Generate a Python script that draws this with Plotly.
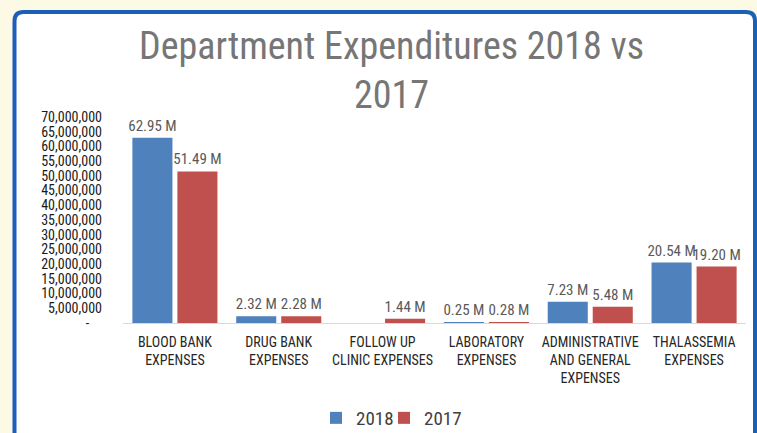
"""Department expenditures 2018 vs 2017 grouped bar chart."""
import plotly.graph_objects as go

categories = [
    "BLOOD BANK<br>EXPENSES",
    "DRUG BANK<br>EXPENSES",
    "FOLLOW UP<br>CLINIC EXPENSES",
    "LABORATORY<br>EXPENSES",
    "ADMINISTRATIVE<br>AND GENERAL<br>EXPENSES",
    "THALASSEMIA<br>EXPENSES",
]
values_2018 = [62950000, 2320000, None, 250000, 7230000, 20540000]
values_2017 = [51490000, 2280000, 1440000, 280000, 5480000, 19200000]
tick_values = list(range(0, 70000001, 5000000))
tick_labels = ["-    "] + [f"{v:,}" for v in tick_values[1:]]

FONT = "Roboto Condensed, DejaVu Sans Condensed, sans-serif"
BLUE = "#4f81bd"
RED = "#c0504d"

# plot area in pixels (used to place the border and title in paper coords)
W, H = 757, 433
L, R, T, B = 123, 11, 117, 110
pw, ph = W - L - R, H - T - B


def px_x(x):
    return (x - L) / pw


def px_y(y):
    return (H - B - y) / ph


def label(v):
    return "" if v is None else f"{v / 1e6:.2f} M"


fig = go.Figure()
series = [("2018", values_2018, BLUE, "legend"), ("2017", values_2017, RED, "legend2")]
for name, vals, color, leg in series:
    fig.add_trace(go.Bar(
        name=name,
        x=categories,
        y=vals,
        legend=leg,
        marker=dict(color=color, line=dict(width=0)),
        text=[label(v) for v in vals],
        textposition="outside",
        textfont=dict(family=FONT, size=15, color="#595959"),
        constraintext="none",
        cliponaxis=False,
    ))

# rounded blue border around the white panel
x0, x1 = px_x(14.5), px_x(755)
y0, y1 = px_y(12), px_y(460)
rx, ry = 9 / pw, 9 / ph
path = (
    f"M {x0},{y1} L {x0},{y0 - ry} Q {x0},{y0} {x0 + rx},{y0} "
    f"L {x1 - rx},{y0} Q {x1},{y0} {x1},{y0 - ry} L {x1},{y1}"
)
fig.add_shape(type="path", path=path, xref="paper", yref="paper",
              fillcolor="white", line=dict(color="#1c5fb8", width=4), layer="below")

for text, y in [("Department Expenditures 2018 vs", 46), ("2017", 95)]:
    fig.add_annotation(
        text=text, x=px_x(391), y=px_y(y), xref="paper", yref="paper",
        showarrow=False, xanchor="center", yanchor="middle",
        font=dict(family=FONT, size=38, color="#767676"),
    )

legend_style = dict(
    orientation="h", yanchor="middle", xanchor="left", y=px_y(418),
    font=dict(family=FONT, size=19, color="#404040"), bgcolor="rgba(0,0,0,0)",
)

fig.update_layout(
    width=W,
    height=H,
    margin=dict(l=L, r=R, t=T, b=B, pad=0, autoexpand=False),
    paper_bgcolor="#fcf9e4",
    plot_bgcolor="rgba(0,0,0,0)",
    barmode="group",
    bargap=0.133,
    bargroupgap=0.11,
    showlegend=True,
    legend=dict(x=px_x(316), **legend_style),
    legend2=dict(x=px_x(384), **legend_style),
    xaxis=dict(
        showgrid=False, zeroline=False, showline=True, linecolor="#d9d9d9", linewidth=1,
        tickfont=dict(family=FONT, size=14, color="#262626"), ticks="", ticklabelstandoff=6,
    ),
    yaxis=dict(
        range=[0, 70000000], tickvals=tick_values, ticktext=tick_labels,
        showgrid=False, zeroline=False, showline=False, ticks="",
        tickfont=dict(family=FONT, size=14, color="#1a1a1a"), ticklabelstandoff=20,
    ),
)

# the page body has a default 8px margin; drop it so the figure fills the window
fig.write_html(
    "out.html",
    config={"displayModeBar": False},
    post_script="document.body.style.margin='0';",
)
